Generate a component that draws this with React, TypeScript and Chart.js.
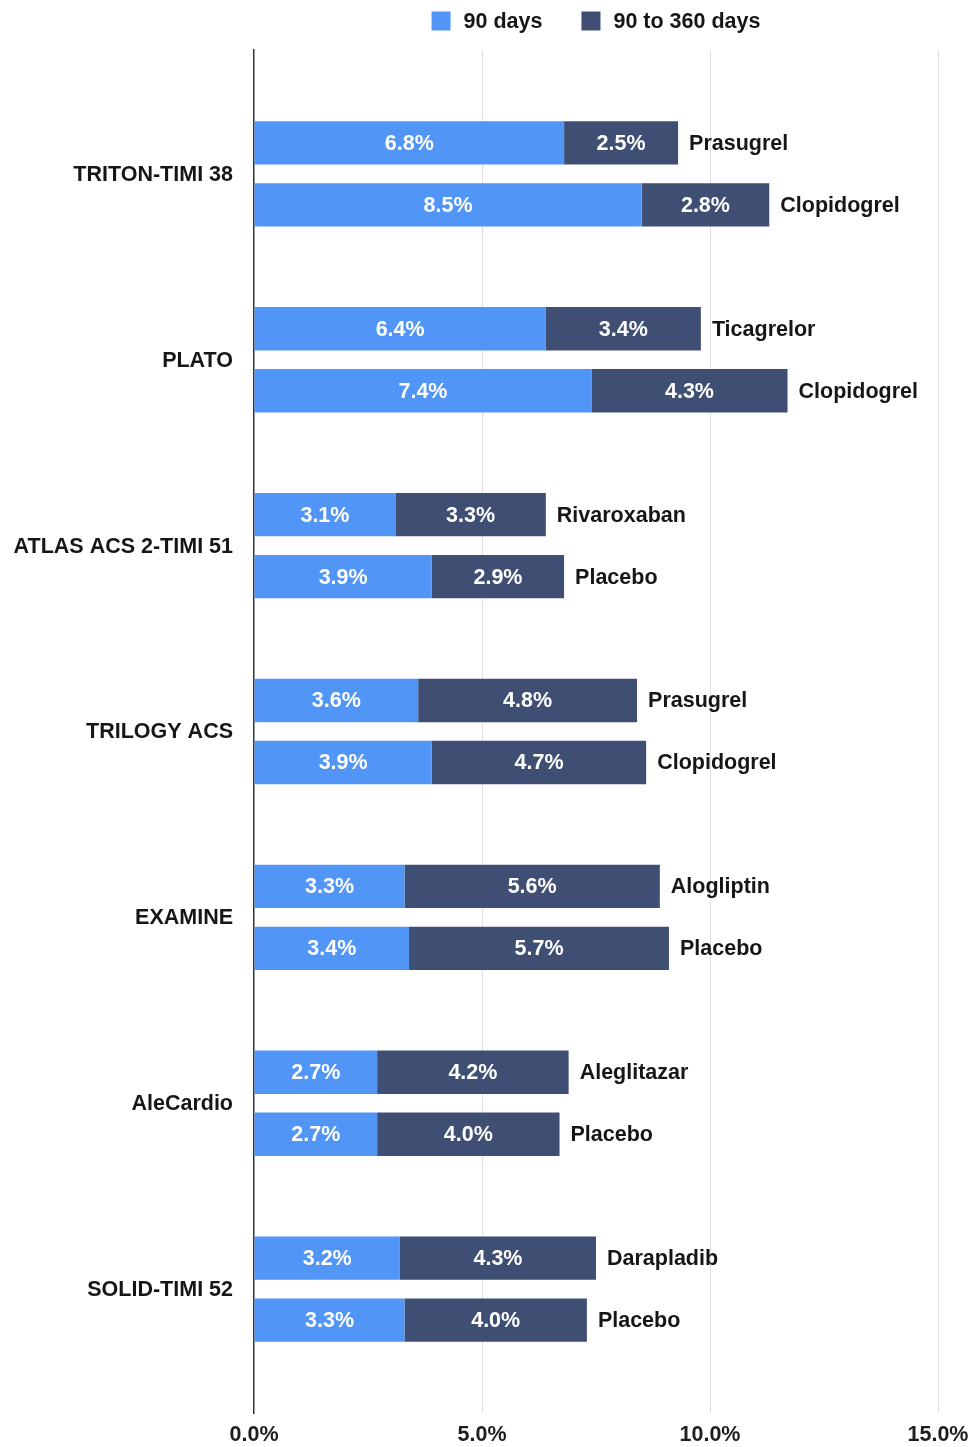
import React, { useEffect, useRef } from "react";
import { Chart, registerables } from "chart.js";

Chart.register(...registerables);

// Trials, each with two arms
const trials = [
  "TRITON-TIMI 38",
  "PLATO",
  "ATLAS ACS 2-TIMI 51",
  "TRILOGY ACS",
  "EXAMINE",
  "AleCardio",
  "SOLID-TIMI 52",
];

const armNames = [
  "Prasugrel", "Clopidogrel",
  "Ticagrelor", "Clopidogrel",
  "Rivaroxaban", "Placebo",
  "Prasugrel", "Clopidogrel",
  "Alogliptin", "Placebo",
  "Aleglitazar", "Placebo",
  "Darapladib", "Placebo",
];

// Event rates (%) in the first 90 days
const early90 = [6.8, 8.5, 6.4, 7.4, 3.1, 3.9, 3.6, 3.9, 3.3, 3.4, 2.7, 2.7, 3.2, 3.3];
// Event rates (%) from 90 to 360 days
const late90to360 = [2.5, 2.8, 3.4, 4.3, 3.3, 2.9, 4.8, 4.7, 5.6, 5.7, 4.2, 4.0, 4.3, 4.0];

const seriesNames = ["90 days", "90 to 360 days"];
const seriesColors = ["#5195F6", "#3F4F73"];

const xTicks = [0, 5, 10, 15];

const FONT = "'Liberation Sans', Arial, Helvetica, sans-serif";
const FONT_SIZE = 21.5;
const TEXT_COLOR = "#161616";

// Row layout: an empty slot on top, then for each trial two bars and a spacer
type Row = { label: string; early: number | null; late: number | null; arm: number };
const rows: Row[] = [{ label: "", early: null, late: null, arm: -1 }];
trials.forEach((_, g) => {
  for (let k = 0; k < 2; k++) {
    const i = g * 2 + k;
    rows.push({ label: armNames[i], early: early90[i], late: late90to360[i], arm: i });
  }
  rows.push({ label: "", early: null, late: null, arm: -1 });
});

const fmt = (v: number) => v.toFixed(1) + "%";

const labelPlugin = {
  id: "barLabels",
  afterDatasetsDraw(chart: any) {
    const ctx = chart.ctx as CanvasRenderingContext2D;
    const area = chart.chartArea;
    ctx.save();
    ctx.font = `bold ${FONT_SIZE}px ${FONT}`;
    ctx.textBaseline = "middle";

    // values inside each segment
    chart.data.datasets.forEach((ds: any, di: number) => {
      const meta = chart.getDatasetMeta(di);
      meta.data.forEach((el: any, idx: number) => {
        const v = ds.data[idx];
        if (v == null) return;
        const cx = (el.x + el.base) / 2;
        ctx.fillStyle = "#ffffff";
        ctx.textAlign = "center";
        ctx.fillText(fmt(v), cx, el.y + 1);
      });
    });

    // arm names after each bar
    const lastMeta = chart.getDatasetMeta(1);
    lastMeta.data.forEach((el: any, idx: number) => {
      const r = rows[idx];
      if (r.arm < 0) return;
      ctx.fillStyle = TEXT_COLOR;
      ctx.textAlign = "left";
      ctx.fillText(r.label, el.x + 11, el.y + 1);
    });

    // trial names centred between their two bars
    trials.forEach((t, g) => {
      const a = lastMeta.data[1 + g * 3];
      const b = lastMeta.data[2 + g * 3];
      const y = (a.y + b.y) / 2;
      ctx.fillStyle = TEXT_COLOR;
      ctx.textAlign = "right";
      ctx.fillText(t, area.left - 21, y + 1);
    });

    // legend centred over the plot area
    const box = 19;
    const gap = 13;
    const itemGap = 39;
    const widths = seriesNames.map((s) => ctx.measureText(s).width);
    const total = widths.reduce((s, w) => s + box + gap + w, 0) + itemGap * (seriesNames.length - 1);
    let x = (area.left + area.right) / 2 - total / 2;
    const ly = 21;
    seriesNames.forEach((s, i) => {
      ctx.fillStyle = seriesColors[i];
      ctx.fillRect(x, ly - box / 2, box, box);
      x += box + gap;
      ctx.fillStyle = TEXT_COLOR;
      ctx.textAlign = "left";
      ctx.fillText(s, x, ly + 1);
      x += widths[i] + itemGap;
    });
    ctx.restore();
  },
};

export default function App() {
  const canvasRef = useRef<HTMLCanvasElement | null>(null);

  useEffect(() => {
    document.body.style.margin = "0";
    const canvas = canvasRef.current;
    if (!canvas) return;
    const chart = new Chart(canvas, {
      type: "bar",
      data: {
        labels: rows.map((r) => r.label),
        datasets: [
          {
            label: seriesNames[0],
            data: rows.map((r) => r.early),
            backgroundColor: seriesColors[0],
            borderWidth: 0,
          },
          {
            label: seriesNames[1],
            data: rows.map((r) => r.late),
            backgroundColor: seriesColors[1],
            borderWidth: 0,
          },
        ],
      },
      options: {
        indexAxis: "y",
        responsive: false,
        animation: false,
        devicePixelRatio: 1,
        datasets: { bar: { categoryPercentage: 1, barPercentage: 0.7 } },
        layout: { padding: { top: 50, right: 30, left: 0, bottom: 0 } },
        plugins: {
          legend: { display: false },
          tooltip: { enabled: false },
        },
        scales: {
          x: {
            stacked: true,
            min: xTicks[0],
            max: xTicks[xTicks.length - 1],
            afterBuildTicks: (scale: any) => {
              scale.ticks = xTicks.map((v) => ({ value: v }));
            },
            afterFit: (scale: any) => {
              scale.height = 34;
              scale.paddingLeft = 0;
              scale.paddingRight = 0;
            },
            border: { display: false },
            grid: {
              color: (c: any) => (c.tick && c.tick.value === 0 ? "rgba(0,0,0,0)" : "#e0e0e0"),
              lineWidth: 1,
              drawTicks: false,
            },
            ticks: {
              padding: 9,
              color: "#1e1e1e",
              font: { family: FONT, size: FONT_SIZE, weight: "bold" },
              callback: (v: any) => fmt(Number(v)),
              maxRotation: 0,
            },
          },
          y: {
            stacked: true,
            afterFit: (scale: any) => {
              scale.width = 254;
            },
            grid: { display: false, drawTicks: false },
            border: { display: true, color: "#333333", width: 1.5 },
            ticks: { display: false },
          },
        },
      },
      plugins: [labelPlugin],
    });
    return () => chart.destroy();
  }, []);

  return (
    <canvas
      ref={canvasRef}
      width={968}
      height={1447}
      style={{ display: "block", width: 968, height: 1447 }}
    />
  );
}
